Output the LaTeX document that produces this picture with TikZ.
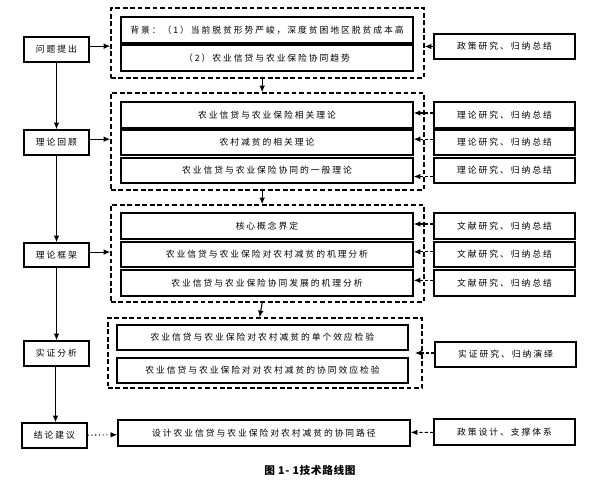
\documentclass[tikz,border=0pt]{standalone}
\usepackage{fontspec}
\setmainfont{Liberation Serif}
\newfontfamily\cjk[LetterSpace=22]{Noto Sans CJK SC}
\newfontfamily\cjkcap[LetterSpace=6]{Noto Sans CJK SC}
\usetikzlibrary{arrows.meta}
\newcommand\pbox[7]{\node[#1, minimum width={(#5-#3)*0.75pt}, minimum height={(#6-#4)*0.75pt}] (#2) at ({(#3+#5)/2},{(#4+#6)/2}) {#7};}
\tikzset{
  box/.style={draw, line width=1.1pt, inner sep=0pt, font=\cjk\fontsize{6.6pt}{8pt}\selectfont},
  grp/.style={draw, line width=1.1pt, dash pattern=on 3.6pt off 2pt, inner sep=0pt},
  arr/.style={-{Latex[length=5pt,width=4.2pt]}, line width=0.8pt},
  darr/.style={arr, dash pattern=on 2.4pt off 1.6pt},
  dotarr/.style={arr, dotted}
}
\begin{document}
\begin{tikzpicture}[x=0.75pt,y=-0.75pt]
\useasboundingbox[fill=white] (0,0) rectangle (605,484);
% groups
\pbox{grp}{g1}{111}{8}{424}{78}{}
\pbox{grp}{g2}{111}{93}{424}{190}{}
\pbox{grp}{g3}{111}{205}{424}{302}{}
\pbox{grp}{g4}{108}{318}{422}{388}{}
% left
\pbox{box}{q1}{24}{37}{89}{62}{问题提出}
\pbox{box}{q2}{24}{130}{89}{155}{理论回顾}
\pbox{box}{q3}{24}{243}{89}{267}{理论框架}
\pbox{box}{q4}{24}{341}{89}{366}{实证分析}
\pbox{box}{q5}{22}{423}{87}{448}{结论建议}
% inner
\pbox{box}{a1}{121}{17}{413}{43}{背景：（1）当前脱贫形势严峻，深度贫困地区脱贫成本高}
\pbox{box}{a2}{121}{45}{413}{71}{（2）农业信贷与农业保险协同趋势}
\pbox{box}{b1}{121}{102}{413}{128}{农业信贷与农业保险相关理论}
\pbox{box}{b2}{121}{130}{413}{155}{农村减贫的相关理论}
\pbox{box}{b3}{121}{158}{413}{183}{农业信贷与农业保险协同的一般理论}
\pbox{box}{c1}{121}{213}{413}{239}{核心概念界定}
\pbox{box}{c2}{121}{242}{413}{267}{农业信贷与农业保险对农村减贫的机理分析}
\pbox{box}{c3}{121}{270}{413}{296}{农业信贷与农业保险协同发展的机理分析}
\pbox{box}{d1}{117}{325}{408}{350}{农业信贷与农业保险对农村减贫的单个效应检验}
\pbox{box}{d2}{117}{358}{408}{383}{农业信贷与农业保险对对农村减贫的协同效应检验}
\pbox{box}{e1}{118}{420}{410}{446}{设计农业信贷与农业保险对农村减贫的协同路径}
% right
\pbox{box}{r1}{434}{34}{575}{59}{政策研究、归纳总结}
\pbox{box}{r2}{434}{102}{575}{128}{理论研究、归纳总结}
\pbox{box}{r3}{434}{130}{575}{155}{理论研究、归纳总结}
\pbox{box}{r4}{434}{158}{575}{183}{理论研究、归纳总结}
\pbox{box}{r5}{434}{213}{575}{239}{文献研究、归纳总结}
\pbox{box}{r6}{434}{242}{575}{267}{文献研究、归纳总结}
\pbox{box}{r7}{434}{270}{575}{296}{文献研究、归纳总结}
\pbox{box}{r8}{435}{342}{576}{367}{实证研究、归纳演绎}
\pbox{box}{r9}{434}{419}{575}{445}{政策设计、支撑体系}
% caption
\node[font=\cjkcap\bfseries\fontsize{8pt}{9pt}\selectfont, inner sep=0pt] (cap) at (310,470) {图 1- 1技术路线图};
% left vertical arrows
\draw[arr] (q1) -- (q2);
\draw[arr] (q2) -- (q3);
\draw[arr] (q3) -- (q4);
\draw[arr] ([xshift=-0.75pt]q4.south) -- ([xshift=-0.75pt]q4.south |- q5.north);
% left to groups
\draw[arr] ([yshift=2.5pt]q1.east) -- ([yshift=2.5pt]q1.east -| g1.west);
\draw[arr] ([yshift=2.5pt]q2.east) -- ([yshift=2.5pt]q2.east -| g2.west);
\draw[arr] ([yshift=2.2pt]q3.east) -- ([yshift=2.2pt]q3.east -| g3.west);
\draw[dotarr] (q5) -- (e1);
% group to group
\draw[arr] ([xshift=-4pt]g1.south) -- ([xshift=-4pt]g2.north);
\draw[arr] ([xshift=-4pt]g2.south) -- ([xshift=-4pt]g3.north);
\draw[arr] ([xshift=-4pt]g3.south) -- ([xshift=-4pt]g4.north);
% right arrows
\draw[arr] (r1.west) -- (r1.west -| g1.east);
\draw[darr] ([yshift=1.5pt]r2.west) -- ([yshift=1.5pt]r2.west -| b1.east);
\draw[darr] ([yshift=2.5pt]r3.west) -- ([yshift=2.5pt]r3.west -| b2.east);
\draw[darr] ([yshift=-4.5pt]r4.west) -- ([yshift=-4.5pt]r4.west -| b3.east);
\draw[darr] ([yshift=1.5pt]r5.west) -- ([yshift=1.5pt]r5.west -| c1.east);
\draw[darr] ([yshift=2pt]r6.west) -- ([yshift=2pt]r6.west -| c2.east);
\draw[darr] ([yshift=2pt]r7.west) -- ([yshift=2pt]r7.west -| c3.east);
\coordinate (t8) at (415,353);
\draw[darr] (r8.west |- t8) -- (t8);
\draw[darr] (r9) -- (e1);
\end{tikzpicture}
\end{document}
